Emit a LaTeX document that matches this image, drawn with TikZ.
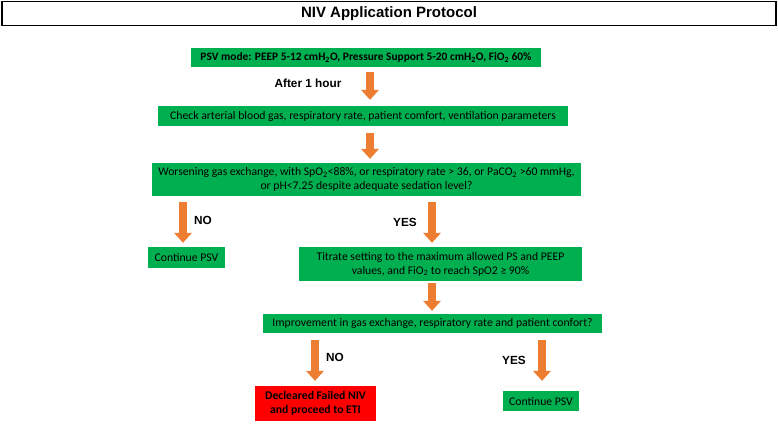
\documentclass[tikz,border=0pt]{standalone}
\usepackage{fontspec}
\setmainfont{Carlito}
\newfontfamily\arialf{Liberation Sans}
\usetikzlibrary{arrows.meta,calc}
\definecolor{boxgreen}{HTML}{00B050}
\definecolor{boxred}{HTML}{FF0000}
\definecolor{arrorange}{HTML}{ED7D31}
\tikzset{
  gbox/.style={fill=boxgreen, inner sep=0pt, align=center, text=black, font=\fontsize{11.7}{13.8}\selectfont},
  rbox/.style={fill=boxred, inner sep=0pt, align=center, text=black, font=\fontsize{11.7}{13.8}\selectfont\bfseries},
  blk/.style={draw=arrorange, line width=8pt, -{Triangle[width=18pt,length=10pt,line width=0pt]}},
  lbl/.style={font=\arialf\bfseries\fontsize{11.8}{13}\selectfont, inner sep=0pt}
}
\begin{document}
\begin{tikzpicture}[x=1pt,y=-1pt]
\useasboundingbox (0,0) rectangle (778,423);
\node[draw=black, line width=1.5pt, minimum width=774pt, minimum height=24pt, inner sep=0pt,
  font=\arialf\bfseries\fontsize{15}{17}\selectfont] (title) at (389,13.5) {NIV Application Protocol};
\node[gbox, minimum width=350pt, minimum height=19pt, font=\fontsize{11.4}{13.8}\selectfont\bfseries] (psv) at (366,57.5)
  {PSV mode: PEEP 5-12 cmH\textsubscript{2}O, Pressure Support 5-20 cmH\textsubscript{2}O, FiO\textsubscript{2} 60\%};
\node[gbox, minimum width=410pt, minimum height=20pt] (check) at (363,116)
  {Check arterial blood gas, respiratory rate, patient comfort, ventilation parameters};
\node[gbox, minimum width=429pt, minimum height=33pt] (worse) at (366.5,179.5)
  {Worsening gas exchange, with SpO\textsubscript{2}<88\%, or respiratory rate > 36, or PaCO\textsubscript{2} >60 mmHg,\\ or pH<7.25 despite adequate sedation level?};
\node[gbox, minimum width=77pt, minimum height=21pt] (contL) at (186.5,257.5) {Continue PSV};
\node[gbox, minimum width=283pt, minimum height=34pt] (titrate) at (440.5,264)
  {Titrate setting to the maximum allowed PS and PEEP\\ values, and FiO\textsubscript{2} to reach SpO2 ≥ 90\%};
\node[gbox, minimum width=339pt, minimum height=19pt] (improve) at (432.5,323.5)
  {Improvement in gas exchange, respiratory rate and patient confort?};
\node[rbox, minimum width=121pt, minimum height=35pt] (red) at (315.5,403.5)
  {Decleared Failed NIV\\ and proceed to ETI};
\node[gbox, minimum width=76pt, minimum height=20pt] (contR) at (541,401) {Continue PSV};
\draw[blk] ($(psv.south)+(4,5)$) -- ($(check.north)+(7,-6)$);
\draw[blk] ($(check.south)+(7,7)$) -- ($(worse.north)+(3.5,-4)$);
\draw[blk] ($(contL.north |- worse.south)+(-3.5,6)$) -- ($(contL.north)+(-3.5,-4)$);
\draw[blk] ($(titrate.north |- worse.south)+(-8.5,6)$) -- ($(titrate.north)+(-8.5,-4)$);
\draw[blk] ($(titrate.south)+(-8.5,2)$) -- ($(improve.north)+(-0.5,-3)$);
\draw[blk] ($(red.north |- improve.south)+(-0.5,7)$) -- ($(red.north)+(-0.5,-5)$);
\draw[blk] ($(contR.north |- improve.south)+(1,7)$) -- ($(contR.north)+(1,-10)$);
\node[lbl] (l1) at (308,83) {After 1 hour};
\node[lbl] (l2) at (203,220) {NO};
\node[lbl] (l3) at (405,222) {YES};
\node[lbl] (l4) at (335,357) {NO};
\node[lbl] (l5) at (514,360) {YES};
\end{tikzpicture}
\end{document}
